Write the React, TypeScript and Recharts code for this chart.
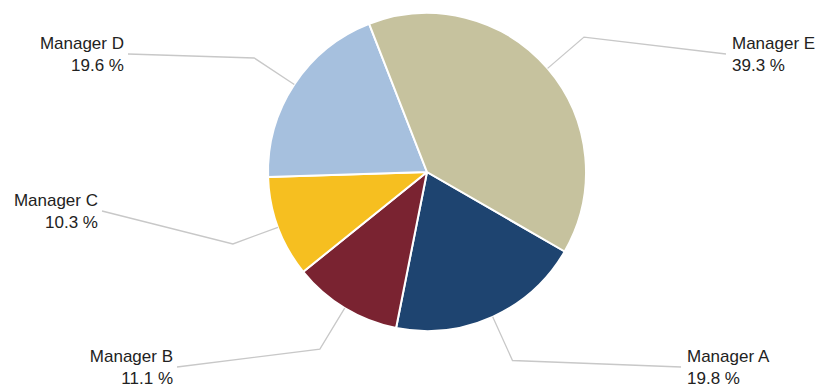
import React from 'react';
import { PieChart, Pie, Cell } from 'recharts';

const managers = ['Manager A', 'Manager B', 'Manager C', 'Manager D', 'Manager E'];
const shares = [19.8, 11.1, 10.3, 19.6, 39.3];
const colors = ['#1E4470', '#7A2331', '#F6BF20', '#A6C0DE', '#C6C29E'];

// where each leader line ends (labels were placed by hand in the original)
const labelAnchors: Record<string, { x: number; y: number; side: 'left' | 'right' }> = {
  'Manager A': { x: 681, y: 367, side: 'right' },
  'Manager B': { x: 177, y: 367, side: 'left' },
  'Manager C': { x: 102, y: 211, side: 'left' },
  'Manager D': { x: 128, y: 54, side: 'left' },
  'Manager E': { x: 726, y: 54, side: 'right' },
};

const data = managers.map((name, i) => ({ name, value: shares[i] }));

const RAD = Math.PI / 180;

const renderLabel = (props: any) => {
  const { cx, cy, midAngle, outerRadius, payload } = props;
  const name = payload?.name ?? props.name;
  const value = payload?.value ?? props.value;
  const anchor = labelAnchors[name];
  if (!anchor) return null;
  const cos = Math.cos(-midAngle * RAD);
  const sin = Math.sin(-midAngle * RAD);
  const sx = cx + outerRadius * cos;
  const sy = cy + outerRadius * sin;
  const ex = cx + (outerRadius + 48) * cos;
  const ey = cy + (outerRadius + 48) * sin;
  const isLeft = anchor.side === 'left';
  const tx = isLeft ? anchor.x - 4 : anchor.x + 6;
  return (
    <g>
      <polyline
        points={`${sx},${sy} ${ex},${ey} ${anchor.x},${anchor.y}`}
        fill="none"
        stroke="#C8C8C8"
        strokeWidth={1.3}
      />
      <text
        x={tx}
        y={anchor.y - 5}
        textAnchor={isLeft ? 'end' : 'start'}
        fill="#222"
        fontSize={17}
        fontFamily="'Liberation Sans', Arial, sans-serif"
      >
        <tspan x={tx} y={anchor.y - 5}>{name}</tspan>
        <tspan x={tx} y={anchor.y + 17}>{`${value.toFixed(1)} %`}</tspan>
      </text>
    </g>
  );
};

const App: React.FC = () => {
  return (
    <div style={{ position: 'absolute', left: 0, top: 0, width: 818, height: 388, background: '#fff' }}>
      <PieChart width={818} height={388} margin={{ top: 0, right: 0, bottom: 0, left: 0 }}>
        <Pie
          data={data}
          dataKey="value"
          nameKey="name"
          cx={427}
          cy={172}
          outerRadius={159}
          startAngle={-30}
          endAngle={-390}
          stroke="#ffffff"
          strokeWidth={2}
          label={renderLabel}
          labelLine={false}
          isAnimationActive={false}
        >
          {data.map((d, i) => (
            <Cell key={d.name} fill={colors[i]} />
          ))}
        </Pie>
      </PieChart>
    </div>
  );
};

export default App;
